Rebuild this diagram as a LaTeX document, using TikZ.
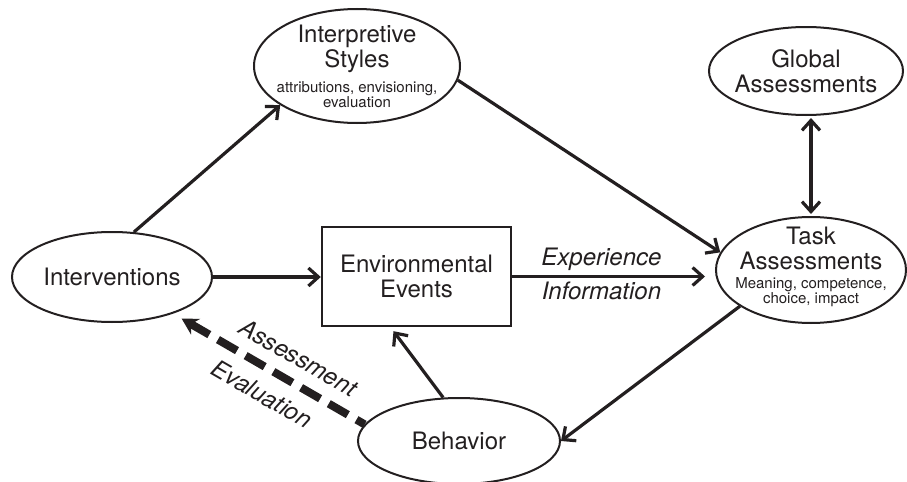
\documentclass[tikz,border=0pt]{standalone}
\usepackage{fontspec}
\setmainfont{TeX Gyre Heros}
\usepackage{xcolor}
\usepackage{tikz}
\usetikzlibrary{calc,arrows.meta,shapes.geometric}
\definecolor{ink}{HTML}{231F20}
\newcommand\subtxt{\fontsize{7.5}{7.5}\selectfont}
\tikzset{
  bub/.style={draw=ink, ellipse, line width=1pt, inner sep=0pt},
  box/.style={draw=ink, line width=1.2pt, minimum width=94.5pt, minimum height=49.5pt, align=center, text=ink, font=\fontsize{12}{12.5}\selectfont},
  lab/.style={text=ink, align=center, font=\fontsize{12}{12.5}\selectfont},
  arr/.style={draw=ink, line width=1.6pt, -{Straight Barb[length=5pt,width=9pt]}},
  both/.style={arr, {Straight Barb[length=5pt,width=9pt]}-{Straight Barb[length=5pt,width=9pt]}},
  dasharr/.style={draw=ink, line width=4pt, dash pattern=on 11pt off 5pt, {Stealth[length=8pt,width=9pt]}-},
  tag/.style={text=ink, font=\fontsize{12}{12}\selectfont\itshape, inner sep=2pt},
}
\begin{document}
\begin{tikzpicture}[x=0.5pt, y=-0.5pt]
  \useasboundingbox (0,0) rectangle (907,482);
  % ovals
  \node[bub, minimum width=103pt, minimum height=57pt,
    label={[lab]center:{Interpretive\\Styles\\\subtxt attributions, envisioning,\\[-5pt]\subtxt evaluation}}] (sty) at (357,66) {};
  \node[bub, minimum width=97pt, minimum height=44pt,
    label={[lab]center:{Global\\Assessments}}] (glob) at (806,71) {};
  \node[bub, minimum width=95pt, minimum height=53pt,
    label={[lab, yshift=1.5pt]center:{Task\\Assessments\\[-3pt]\subtxt Meaning, competence,\\[-5pt]\subtxt choice, impact}}] (task) at (811,270) {};
  \node[bub, minimum width=100pt, minimum height=45pt,
    label={[lab]center:Interventions}] (iv) at (112,277) {};
  \node[bub, minimum width=101pt, minimum height=43pt,
    label={[lab]center:Behavior}] (beh) at (459,441) {};
  \node[box] (env) at (416.5,276.5) {Environmental\\Events};
  % links
  \draw[arr] (iv.64) -- (sty.207);
  \draw[arr] (sty.352) -- (task.169);
  \draw[arr] (iv.east) -- (iv.east -| env.west);
  \draw[arr, shorten >=5pt] (env.east) -- (env.east -| task.west)
    node[tag, above, pos=0.44] {Experience}
    node[tag, below, pos=0.44] {Information};
  \draw[both, shorten <=1pt, shorten >=1pt] (task.north) -- (task.north |- glob.south);
  \draw[arr] (task.207) -- (beh.east);
  \draw[arr, shorten >=2.5pt] (beh.110) -- ($(env.south)+(-26,0)$);
  \draw[dasharr, shorten <=5pt] (iv.329) -- (beh.170)
    node[tag, sloped, above, inner sep=6pt, pos=0.59] {Assessment}
    node[tag, sloped, below, inner sep=6pt, pos=0.53] {Evaluation};
\end{tikzpicture}
\end{document}
